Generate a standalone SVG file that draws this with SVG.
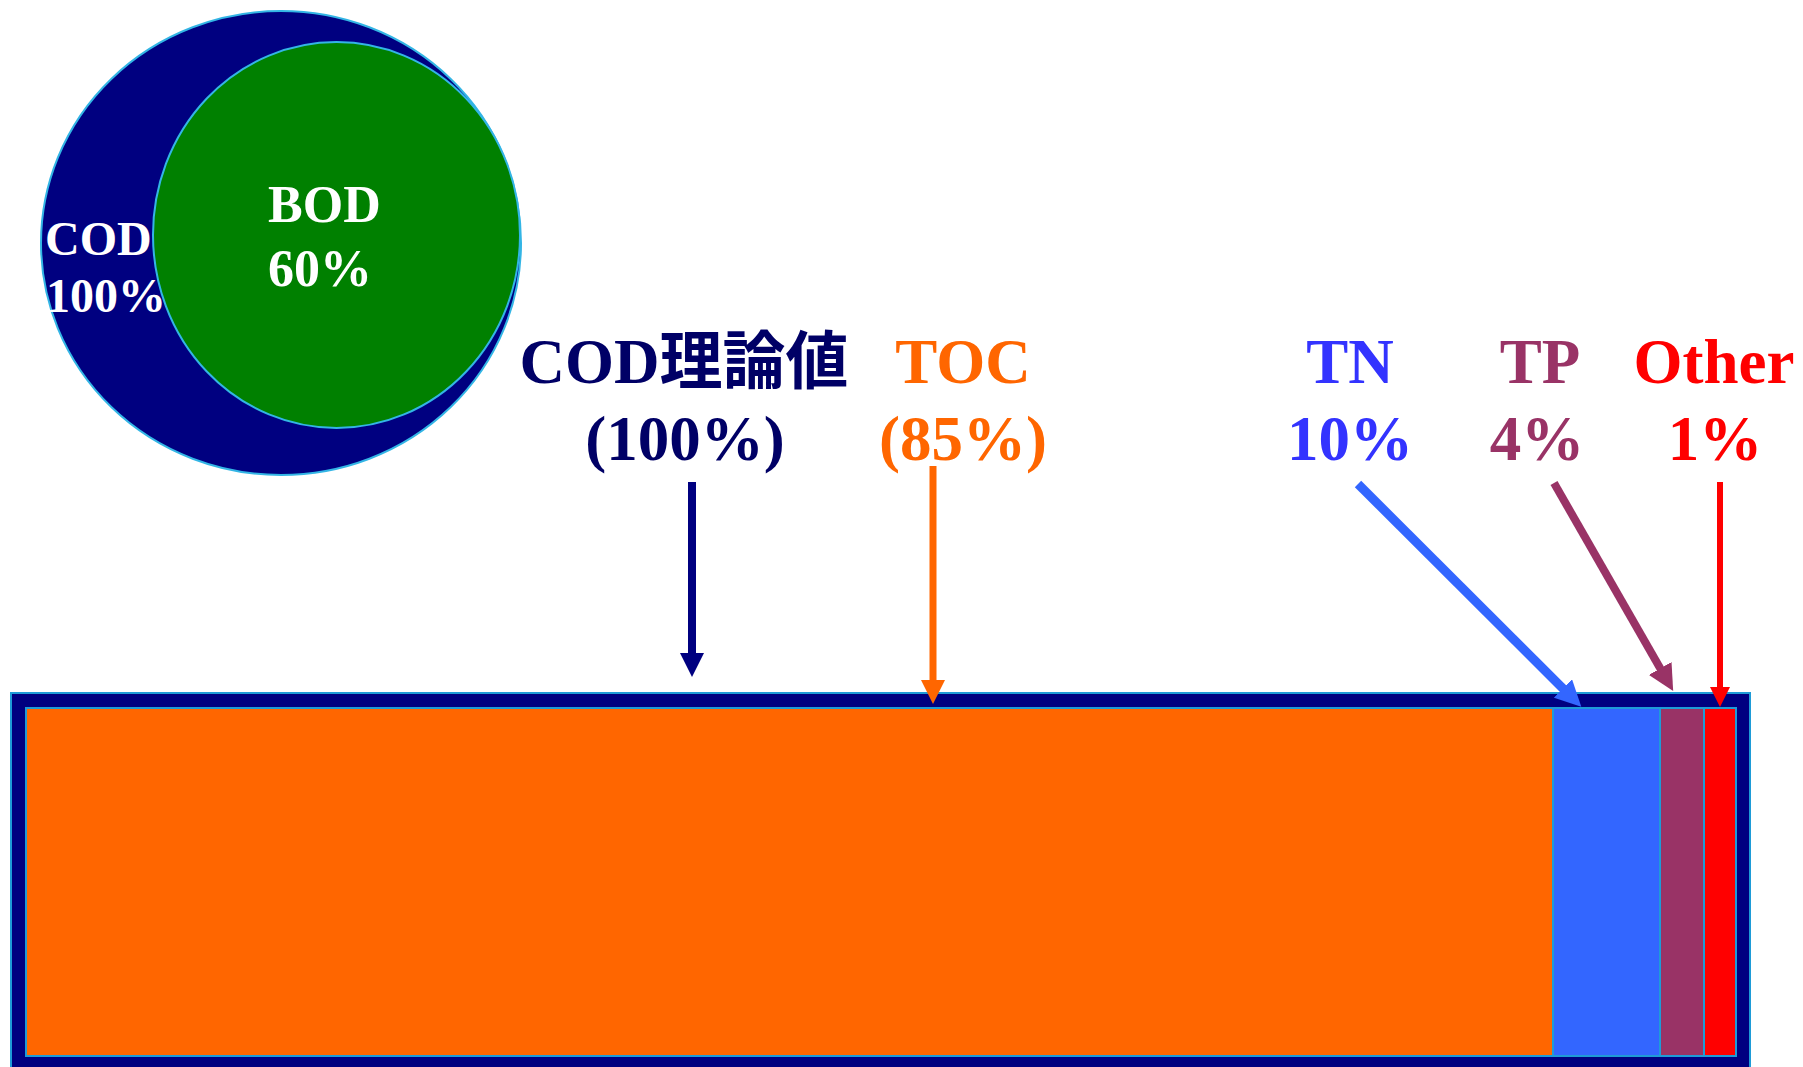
<svg xmlns="http://www.w3.org/2000/svg" width="1803" height="1067" viewBox="0 0 1803 1067">
<style>
.t{font-family:"Liberation Serif","Noto Sans CJK JP",serif;font-weight:bold;}
.lbl{font-size:63px;text-anchor:middle;}
.seg{stroke:#1E9BD7;stroke-width:2;}
.arr{fill:none;stroke-linecap:butt;}
</style>
<defs>
<marker id="hNavy" viewBox="0 0 24 24" refX="14" refY="12" markerWidth="24" markerHeight="24" markerUnits="userSpaceOnUse" orient="auto"><path d="M0,0 L24,12 L0,24 z" fill="#000080"/></marker>
<marker id="hOrange" viewBox="0 0 24 24" refX="14" refY="12" markerWidth="24" markerHeight="24" markerUnits="userSpaceOnUse" orient="auto"><path d="M0,0 L24,12 L0,24 z" fill="#FF6600"/></marker>
<marker id="hBlue" viewBox="0 0 26 26" refX="16" refY="13" markerWidth="26" markerHeight="26" markerUnits="userSpaceOnUse" orient="auto"><path d="M0,0 L26,13 L0,26 z" fill="#3366FF"/></marker>
<marker id="hPurple" viewBox="0 0 26 26" refX="16" refY="13" markerWidth="26" markerHeight="26" markerUnits="userSpaceOnUse" orient="auto"><path d="M0,0 L26,13 L0,26 z" fill="#993366"/></marker>
<marker id="hRed" viewBox="0 0 20 20" refX="10" refY="10" markerWidth="20" markerHeight="20" markerUnits="userSpaceOnUse" orient="auto"><path d="M0,0 L20,10 L0,20 z" fill="#FF0000"/></marker>
</defs>
<rect width="1803" height="1067" fill="#FFFFFF"/>

<g id="venn">
<ellipse cx="281" cy="243" rx="240" ry="232" fill="#000080" stroke="#33B5E5" stroke-width="2"/>
<ellipse cx="336.5" cy="235" rx="183.5" ry="193" fill="#008000" stroke="#33B5E5" stroke-width="2"/>
<text class="t" fill="#FFFFFF" font-size="48" x="45" y="255">COD</text>
<text class="t" fill="#FFFFFF" font-size="48" x="46" y="312">100%</text>
<text class="t" fill="#FFFFFF" font-size="52" x="268" y="222">BOD</text>
<text class="t" fill="#FFFFFF" font-size="52" x="268" y="286">60%</text>
</g>

<g id="bar">
<rect x="11" y="693" width="1739" height="380" fill="#000080" stroke="#1E9BD7" stroke-width="2"/>
<rect class="seg" x="26" y="708" width="1527" height="348" fill="#FF6600"/>
<rect class="seg" x="1553" y="708" width="107" height="348" fill="#3366FF"/>
<rect class="seg" x="1660" y="708" width="44" height="348" fill="#993366"/>
<rect class="seg" x="1704" y="708" width="32" height="348" fill="#FF0000"/>
</g>

<g id="label-cod">
<text class="t lbl" fill="#000066" x="684" y="383">COD理論値</text>
<text class="t lbl" fill="#000066" x="685" y="460">(100%)</text>
</g>
<g id="label-toc">
<text class="t lbl" fill="#FF6600" x="963" y="383">TOC</text>
<text class="t lbl" fill="#FF6600" x="963" y="460">(85%)</text>
</g>
<g id="label-tn">
<text class="t lbl" fill="#3333FF" x="1350" y="383">TN</text>
<text class="t lbl" fill="#3333FF" x="1350" y="460">10%</text>
</g>
<g id="label-tp">
<text class="t lbl" fill="#993366" x="1540" y="383">TP</text>
<text class="t lbl" fill="#993366" x="1537" y="460">4%</text>
</g>
<g id="label-other">
<text class="t lbl" fill="#FF0000" x="1714" y="383">Other</text>
<text class="t lbl" fill="#FF0000" x="1715" y="460">1%</text>
</g>

<g id="connectors">
<path class="arr" d="M692,482 L692,667" stroke="#000080" stroke-width="8" marker-end="url(#hNavy)"/>
<path class="arr" d="M933,466 L933,694" stroke="#FF6600" stroke-width="7" marker-end="url(#hOrange)"/>
<path class="arr" d="M1358,484 L1574.2,699.8" stroke="#3366FF" stroke-width="9" marker-end="url(#hBlue)"/>
<path class="arr" d="M1554,483 L1668.2,682.3" stroke="#993366" stroke-width="8" marker-end="url(#hPurple)"/>
<path class="arr" d="M1720,482 L1720,697" stroke="#FF0000" stroke-width="6" marker-end="url(#hRed)"/>
</g>
</svg>
